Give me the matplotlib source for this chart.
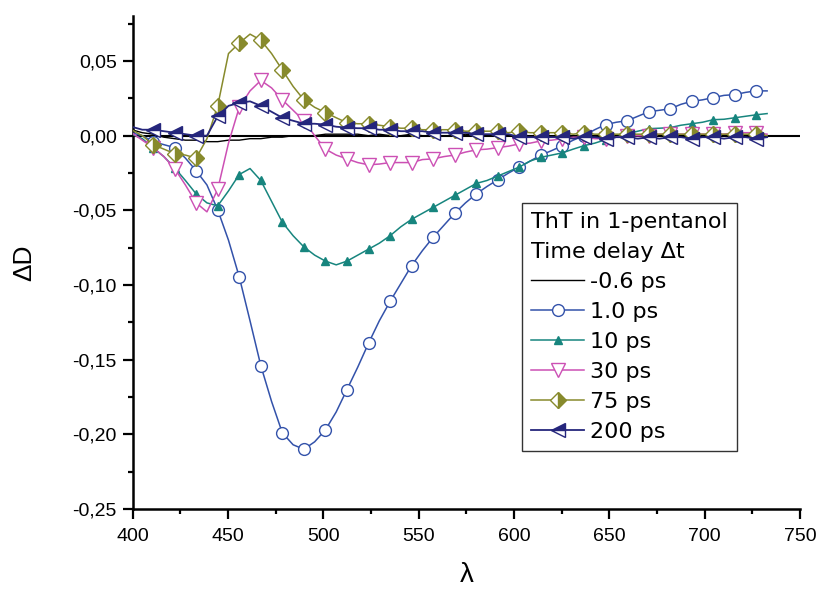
import numpy as np
import matplotlib
matplotlib.use('Agg')
import matplotlib.pyplot as plt
from matplotlib.ticker import MultipleLocator, FuncFormatter

plt.rcParams['font.family'] = ['Liberation Sans', 'DejaVu Sans']

# sampling grid of the spectra (nm), markers sit on every second point
wavelength = np.linspace(399.4, 732.75, 60)

dD_m06 = [0.004, 0.002, 0.001, -0.001, -0.002, -0.003, -0.003, -0.004, -0.004, -0.003,
          -0.003, -0.002, -0.002, -0.001, -0.001, 0.000, 0.000, 0.000, 0.001, 0.001,
          0.001, 0.001, 0.000, 0.001, 0.000, 0.000, 0.001, 0.000, 0.000, 0.000,
          0.000, 0.001, 0.000, 0.000, 0.000, 0.000, 0.000, 0.000, 0.000, 0.000,
          0.000, 0.000, 0.000, 0.000, 0.000, 0.000, 0.000, 0.000, 0.000, 0.000,
          0.000, 0.000, 0.000, 0.000, 0.000, 0.000, 0.000, 0.000, 0.000, 0.000]

dD_1 = [0.002, 0.000, -0.004, -0.006, -0.008, -0.015, -0.0235, -0.033, -0.0497, -0.070,
        -0.0946, -0.124, -0.154, -0.178, -0.199, -0.207, -0.210, -0.205, -0.197, -0.185,
        -0.170, -0.155, -0.139, -0.124, -0.111, -0.099, -0.087, -0.077, -0.068, -0.060,
        -0.052, -0.045, -0.039, -0.034, -0.0295, -0.025, -0.021, -0.017, -0.013, -0.010,
        -0.0067, -0.003, 0.000, 0.004, 0.0074, 0.009, 0.010, 0.013, 0.016, 0.017,
        0.018, 0.021, 0.023, 0.024, 0.0255, 0.027, 0.0275, 0.029, 0.030, 0.030]

dD_10 = [0.001, -0.002, -0.008, -0.014, -0.0215, -0.030, -0.039, -0.045, -0.047, -0.037,
         -0.026, -0.022, -0.030, -0.044, -0.058, -0.067, -0.0745, -0.080, -0.084, -0.0865,
         -0.084, -0.080, -0.076, -0.072, -0.067, -0.061, -0.056, -0.052, -0.048, -0.044,
         -0.040, -0.036, -0.032, -0.030, -0.027, -0.024, -0.021, -0.017, -0.0145, -0.013,
         -0.0115, -0.009, -0.0067, -0.005, -0.0027, -0.001, 0.0013, 0.003, 0.0047, 0.005,
         0.0054, 0.007, 0.008, 0.009, 0.0107, 0.011, 0.012, 0.013, 0.014, 0.0148]

dD_30 = [0.002, -0.003, -0.008, -0.014, -0.022, -0.033, -0.045, -0.051, -0.036, -0.005,
         0.019, 0.030, 0.037, 0.032, 0.024, 0.017, 0.010, 0.000, -0.009, -0.013,
         -0.0155, -0.018, -0.0195, -0.019, -0.018, -0.018, -0.018, -0.016, -0.0155, -0.014,
         -0.013, -0.011, -0.0095, -0.009, -0.008, -0.007, -0.0055, -0.005, -0.0035, -0.003,
         -0.002, -0.001, -0.001, -0.002, -0.002, -0.001, 0.000, 0.000, 0.000, 0.001,
         0.001, 0.001, 0.001, 0.001, 0.001, 0.001, 0.002, 0.002, 0.002, 0.001]

dD_75 = [0.004, 0.000, -0.006, -0.009, -0.012, -0.013, -0.015, -0.002, 0.020, 0.055,
         0.062, 0.068, 0.064, 0.055, 0.044, 0.033, 0.024, 0.019, 0.0155, 0.012,
         0.0087, 0.008, 0.008, 0.007, 0.006, 0.005, 0.005, 0.004, 0.004, 0.004,
         0.004, 0.003, 0.003, 0.003, 0.003, 0.002, 0.003, 0.002, 0.002, 0.002,
         0.002, 0.001, 0.002, 0.001, 0.001, 0.001, 0.001, 0.001, 0.001, 0.001,
         0.001, 0.001, 0.001, 0.001, 0.001, 0.001, 0.001, 0.001, 0.001, 0.000]

dD_200 = [0.006, 0.004, 0.004, 0.003, 0.002, 0.001, 0.000, 0.000, 0.013, 0.020,
          0.022, 0.023, 0.020, 0.016, 0.012, 0.010, 0.008, 0.008, 0.0074, 0.006,
          0.0054, 0.005, 0.005, 0.004, 0.004, 0.003, 0.003, 0.003, 0.002, 0.002,
          0.002, 0.002, 0.001, 0.001, 0.001, 0.001, -0.001, -0.001, -0.001, -0.001,
          -0.001, -0.002, -0.001, -0.001, -0.002, -0.001, -0.001, -0.002, -0.001, -0.002,
          -0.001, -0.001, -0.002, -0.001, -0.001, -0.002, -0.001, -0.001, -0.002, -0.001]

labels = ['-0.6 ps', '1.0 ps', '10 ps', '30 ps', '75 ps', '200 ps']

fig = plt.figure(figsize=(8.19, 5.90), dpi=100)
ax = fig.add_axes([0.162, 0.1373, 0.8148, 0.8352])

ax.axhline(0, color='black', lw=1.5, zorder=1)

marks = list(range(2, 60, 2))

ax.plot(wavelength, dD_m06, color='black', lw=1.0, label=labels[0], zorder=2)
ax.plot(wavelength, dD_1, color='#3352aa', lw=1.1, marker='o', ms=8.5,
        mfc='white', mec='#3352aa', mew=1.0, markevery=marks, label=labels[1], zorder=3)
ax.plot(wavelength, dD_10, color='#17857e', lw=1.1, marker='^', ms=5.5,
        mfc='#17857e', mec='#17857e', markevery=marks, label=labels[2], zorder=4)
ax.plot(wavelength, dD_30, color='#cc50b4', lw=1.1, marker='v', ms=9.5,
        mfc='white', mec='#cc50b4', mew=1.0, markevery=marks, label=labels[3], zorder=5)
ax.plot(wavelength, dD_75, color='#878a2c', lw=1.1, marker='D', ms=8.5,
        fillstyle='right', mfc='#878a2c', mfcalt='white', mec='#878a2c', mew=1.0,
        markevery=marks, label=labels[4], zorder=6)
ax.plot(wavelength, dD_200, color='#25267c', lw=1.3, marker='<', ms=9.5,
        fillstyle='top', mfc='#25267c', mfcalt='white', mec='#25267c', mew=1.0,
        markevery=marks, label=labels[5], zorder=7)

ax.set_xlim(400, 750)
ax.set_ylim(-0.25, 0.08)

ax.xaxis.set_major_locator(MultipleLocator(50))
ax.xaxis.set_minor_locator(MultipleLocator(25))
ax.yaxis.set_major_locator(MultipleLocator(0.05))
ax.yaxis.set_minor_locator(MultipleLocator(0.025))
ax.yaxis.set_major_formatter(FuncFormatter(lambda v, p: f'{v:.2f}'.replace('.', ',').replace('-0,00', '0,00')))

for s in ['top', 'right']:
    ax.spines[s].set_visible(False)
for s in ['left', 'bottom']:
    ax.spines[s].set_linewidth(1.8)

ax.tick_params(which='major', direction='out', length=7, width=1.6, labelsize=14)
ax.tick_params(which='minor', direction='out', length=3.6, width=1.6)
ax.tick_params(axis='x', which='major', pad=6.5)
ax.tick_params(axis='y', which='major', pad=4.3)

ax.set_ylabel('ΔD', fontsize=19)
ax.set_xlabel('λ', fontsize=20)
ax.yaxis.set_label_coords(-0.145, 0.5)
ax.xaxis.set_label_coords(0.5, -0.108)

leg = ax.legend(loc='upper left', bbox_to_anchor=(521.7 / 819, 1 - 202.7 / 590),
                bbox_transform=fig.transFigure, borderaxespad=0,
                title='ThT in 1-pentanol\nTime delay Δt', alignment='left',
                prop={'family': ['DejaVu Sans'], 'size': 16},
                title_fontproperties={'family': ['DejaVu Sans'], 'size': 16},
                frameon=True, fancybox=False, edgecolor='black',
                handlelength=2.4, handletextpad=0.25,
                labelspacing=0.45, borderpad=0.42)
leg.get_title().set_linespacing(1.6)
leg.get_frame().set_linewidth(1.0)

fig.savefig('out.png', dpi=100)
